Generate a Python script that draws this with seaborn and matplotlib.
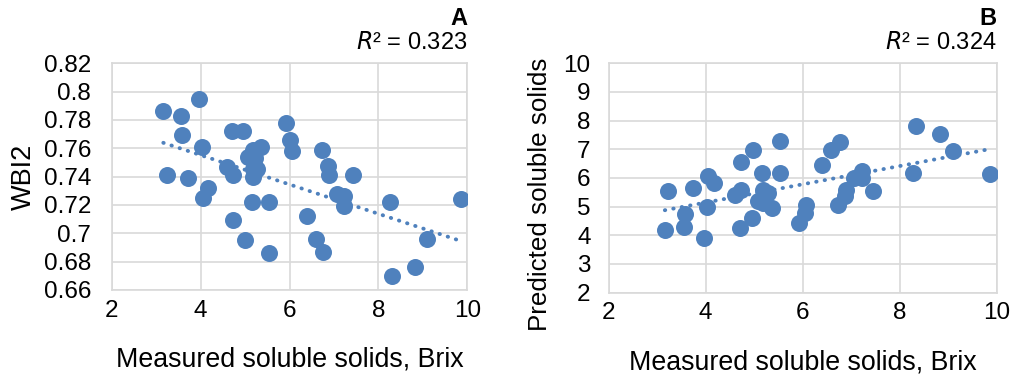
import numpy as np
import seaborn as sns
import matplotlib.pyplot as plt
from matplotlib.ticker import FuncFormatter

# Panel A: measured Brix vs WBI2
measured_a = [3.16, 3.24, 3.56, 3.59, 3.72, 3.96, 4.03, 4.06, 4.16, 4.60, 4.70,
              4.73, 4.73, 4.96, 5.00, 5.07, 5.16, 5.18, 5.18, 5.18, 5.22, 5.26,
              5.36, 5.53, 5.53, 5.93, 6.02, 6.06, 6.39, 6.59, 6.72, 6.76, 6.86,
              6.89, 7.06, 7.23, 7.23, 7.42, 8.25, 8.31, 8.82, 9.09, 9.85]
wbi2 = [0.786, 0.741, 0.783, 0.769, 0.739, 0.795, 0.761, 0.725, 0.732, 0.747, 0.7725,
        0.741, 0.709, 0.772, 0.695, 0.754, 0.722, 0.759, 0.745, 0.740, 0.753, 0.745,
        0.761, 0.722, 0.686, 0.778, 0.766, 0.758, 0.712, 0.696, 0.759, 0.6865, 0.7475,
        0.741, 0.728, 0.726, 0.719, 0.741, 0.722, 0.670, 0.6765, 0.696, 0.724]

# Panel B: measured vs predicted soluble solids
measured_b = [3.16, 3.22, 3.55, 3.57, 3.73, 3.96, 4.02, 4.04, 4.17, 4.60, 4.70,
              4.72, 4.72, 4.96, 4.98, 5.08, 5.16, 5.18, 5.18, 5.22, 5.29, 5.36,
              5.53, 5.53, 5.93, 6.04, 6.06, 6.40, 6.59, 6.73, 6.77, 6.87, 6.90,
              7.06, 7.23, 7.23, 7.44, 8.27, 8.33, 8.83, 9.10, 9.87]
predicted = [4.19, 5.54, 4.28, 4.75, 5.65, 3.91, 4.97, 6.06, 5.83, 5.40, 4.26,
             5.59, 6.54, 4.61, 6.96, 5.19, 6.17, 5.59, 5.13, 5.42, 5.48, 4.96,
             7.29, 6.17, 4.43, 4.78, 5.07, 6.46, 6.96, 5.05, 7.24, 5.36, 5.57,
             6.00, 6.23, 6.00, 5.56, 6.17, 7.82, 7.54, 6.93, 6.12]

sns.set_theme(style='white')
plt.rcParams['font.family'] = ['Liberation Sans', 'DejaVu Sans']
plt.rcParams['text.color'] = 'black'
plt.rcParams['axes.labelcolor'] = 'black'

blue = '#4f81bd'
grid_c = '#d9d9d9'

fig = plt.figure(figsize=(10.16, 3.83), dpi=100)
ax_a = fig.add_axes([0.110, 0.243, 0.350, 0.592])
ax_b = fig.add_axes([0.599, 0.236, 0.382, 0.599])


def draw(ax, x, y, ylabel, yticks, letter, r2, ylab_size, ytick_pad):
    sns.regplot(x=x, y=y, ax=ax, ci=None, truncate=True,
                scatter_kws=dict(s=150, color=blue, alpha=1, linewidths=0, zorder=3),
                line_kws=dict(color=blue, lw=2.8, linestyle=(0, (0.1, 2.1)),
                              dash_capstyle='round', zorder=4))
    ax.set_xlim(2, 10)
    ax.set_xticks([2, 4, 6, 8, 10])
    ax.set_ylim(yticks[0], yticks[-1])
    ax.set_yticks(yticks)
    ax.yaxis.set_major_formatter(FuncFormatter(lambda v, p: f'{v:g}'))
    ax.grid(True, color=grid_c, lw=1.2)
    ax.set_axisbelow(True)
    for s in ax.spines.values():
        s.set_color(grid_c)
        s.set_linewidth(1.2)
    ax.tick_params(axis='both', length=0, labelsize=17.5, colors='black')
    ax.tick_params(axis='y', pad=ytick_pad)
    ax.tick_params(axis='x', pad=7)
    ax.set_xlabel('Measured soluble solids, Brix', fontsize=19.3, labelpad=18)
    ax.set_ylabel(ylabel, fontsize=ylab_size, labelpad=5)
    ax.text(1.0, 1.195, letter, transform=ax.transAxes, ha='right', va='center',
            fontsize=17, fontweight='bold')
    ax.text(1.0, 1.09, f'$R$² = {r2}', transform=ax.transAxes, ha='right', va='center',
            fontsize=17)
    fit = np.corrcoef(x, y)[0, 1] ** 2
    print(letter, 'fit R2', round(fit, 3))


draw(ax_a, measured_a, wbi2, 'WBI2', np.round(np.arange(0.66, 0.8201, 0.02), 2),
     'A', '0.323', 19.5, 15)
draw(ax_b, measured_b, predicted, 'Predicted soluble solids', np.arange(2, 11, 1),
     'B', '0.324', 18.7, 13)
ax_b.yaxis.set_label_coords(-0.145, 0.43)

fig.savefig('out.png', dpi=100)
